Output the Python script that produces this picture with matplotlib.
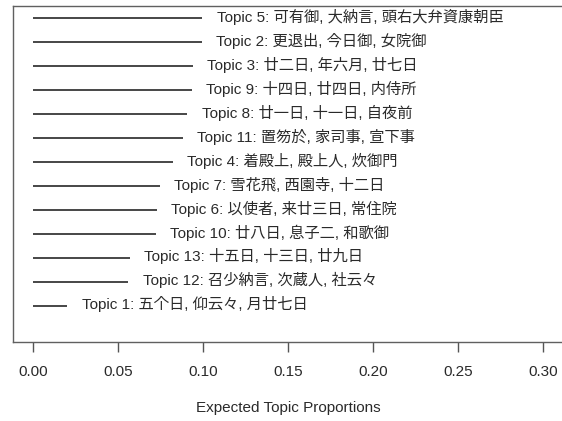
import matplotlib
matplotlib.use("Agg")
import matplotlib.pyplot as plt
import matplotlib.transforms as mtransforms

plt.rcParams['font.family'] = ['Liberation Sans', 'Noto Sans CJK JP', 'DejaVu Sans']

# Topics ordered from bottom to top
topics = ["Topic 1", "Topic 12", "Topic 13", "Topic 10", "Topic 6", "Topic 7",
          "Topic 4", "Topic 11", "Topic 8", "Topic 9", "Topic 3", "Topic 2", "Topic 5"]
words = ["五个日, 仰云々, 月廿七日",
         "召少納言, 次蔵人, 社云々",
         "十五日, 十三日, 廿九日",
         "廿八日, 息子二, 和歌御",
         "以使者, 来廿三日, 常住院",
         "雪花飛, 西園寺, 十二日",
         "着殿上, 殿上人, 炊御門",
         "置笏於, 家司事, 宣下事",
         "廿一日, 十一日, 自夜前",
         "十四日, 廿四日, 内侍所",
         "廿二日, 年六月, 廿七日",
         "更退出, 今日御, 女院御",
         "可有御, 大納言, 頭右大弁資康朝臣"]
proportions = [0.0204, 0.0561, 0.0571, 0.0722, 0.0728, 0.0747,
               0.0822, 0.0882, 0.0908, 0.0934, 0.0939, 0.0992, 0.0996]
xticks = [0.00, 0.05, 0.10, 0.15, 0.20, 0.25, 0.30]
xtick_labels = ["0.00", "0.05", "0.10", "0.15", "0.20", "0.25", "0.30"]

W, H = 562, 421
fig = plt.figure(figsize=(W / 100, H / 100), dpi=100)
left_px, right_px, top_px, bot_px = 12.7, 563.5, 6.0, 342.0
ax = fig.add_axes([left_px / W, (H - bot_px) / H, (right_px - left_px) / W, (bot_px - top_px) / H])

line_color = '#383838'
text_color = '#2a2a2a'
ypos = list(range(1, len(topics) + 1))
for y, p, t, w in zip(ypos, proportions, topics, words):
    ax.plot([0, p], [y, y], color=line_color, lw=1.3, solid_capstyle='butt')
    ax.text(p, y, f"{t}: {w}",
            transform=mtransforms.offset_copy(ax.transData, fig=fig, x=10.5, y=1.0, units='points'),
            ha='left', va='center', fontsize=11, color=text_color)

ax.set_xlim(-0.0118, 0.312)
ax.set_ylim(-0.52, len(topics) + 0.52)
ax.set_xticks(xticks)
ax.set_xticklabels(xtick_labels)
ax.set_yticks([])
ax.tick_params(axis='x', direction='out', length=7.2, width=1.0, color='#555555',
               labelsize=11, labelcolor=text_color, pad=9)
for s in ax.spines.values():
    s.set_color('#606060')
    s.set_linewidth(1.0)

ax.set_xlabel("Expected Topic Proportions", fontsize=11, color=text_color)
ax.xaxis.set_label_coords(0.5, (bot_px - 408) / (bot_px - top_px))
ax.xaxis.label.set_va('center')

fig.savefig("out.png", dpi=100)
